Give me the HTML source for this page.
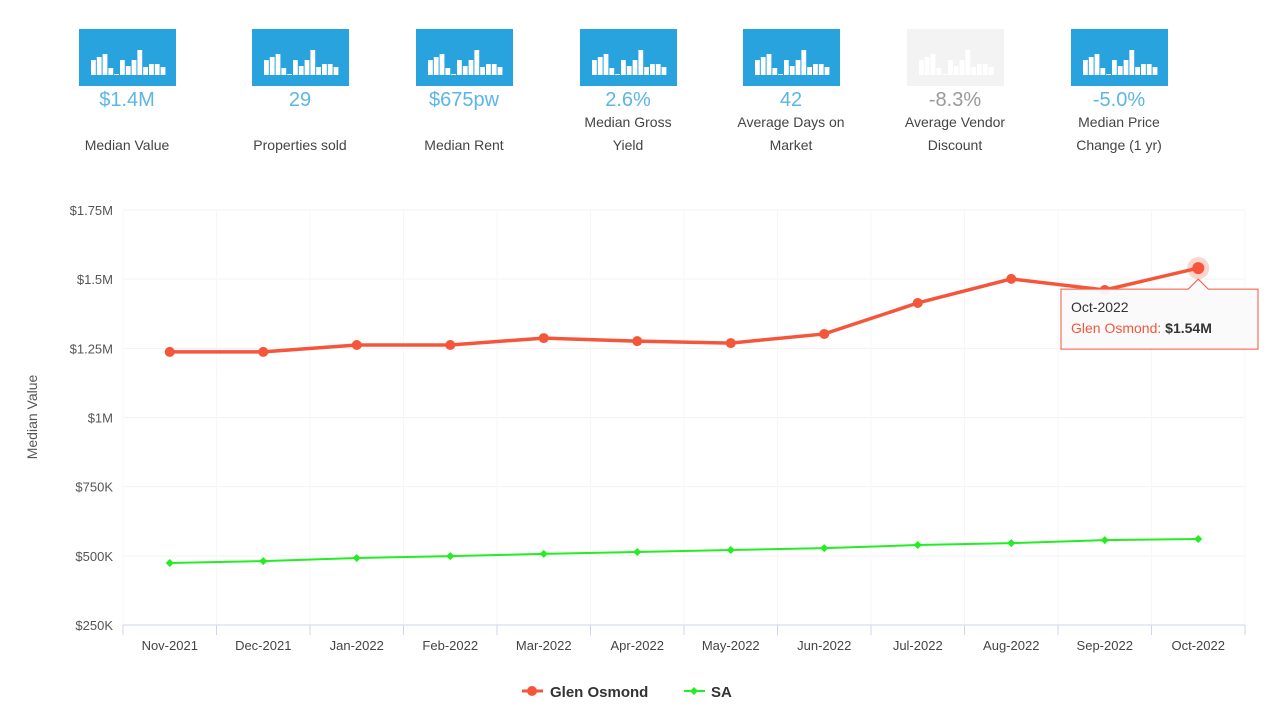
<!DOCTYPE html>
<html><head><meta charset="utf-8">
<style>
body{margin:0;width:1278px;height:720px;background:#fff;font-family:"Liberation Sans",sans-serif;overflow:hidden;position:relative}
.stat{position:absolute;top:29px;width:150px;text-align:center}
.icon{display:block;margin:0 auto;width:97px;height:57px;background:#29a3dd}
.icon.dim{background:#f3f3f3}
.val{color:#5bb6e8;font-size:20px;line-height:22px;margin-top:3px}
.lab{color:#444;font-size:14px;line-height:23px;height:46px;display:flex;align-items:flex-end;justify-content:center}
</style></head><body>
<div id="stats"></div>
<svg id="chart" width="1278" height="720" style="position:absolute;left:0;top:0"></svg>
<script>
const categories=["Nov-2021","Dec-2021","Jan-2022","Feb-2022","Mar-2022","Apr-2022","May-2022","Jun-2022","Jul-2022","Aug-2022","Sep-2022","Oct-2022"];
const glenValues=[1.237,1.237,1.262,1.262,1.287,1.276,1.269,1.302,1.414,1.501,1.461,1.54];
const saValues=[0.474,0.481,0.492,0.499,0.507,0.514,0.521,0.528,0.539,0.546,0.557,0.561];
const yTicks=[0.25,0.5,0.75,1,1.25,1.5,1.75];
const yTickLabels=["$250K","$500K","$750K","$1M","$1.25M","$1.5M","$1.75M"];
const statVals=["$1.4M","29","$675pw","2.6%","42","-8.3%","-5.0%"];
const statLabels=["Median Value","Properties sold","Median Rent","Median Gross<br>Yield","Average Days on<br>Market","Average Vendor<br>Discount","Median Price<br>Change (1 yr)"];
const statCenters=[127,300,464,628,791,955,1119];
const barH=[15,18,21,7,1,15,9,15,25,8,11,11,8];

const st=document.getElementById('stats');
statVals.forEach((v,i)=>{
  const d=document.createElement('div');
  d.className='stat';d.style.left=(statCenters[i]-75)+'px';
  
  
  let bars='';
  barH.forEach((h,j)=>{bars+=`<rect x="${12+j*5.8}" y="${46-h}" width="4.8" height="${h}" fill="#fff"/>`;});
  d.innerHTML=`<svg class="icon${i==5?' dim':''}" viewBox="0 0 97 57">${bars}</svg><div class="val" style="${i==5?'color:#999':''}">${v}</div><div class="lab"><span>${statLabels[i]}</span></div>`;
  st.appendChild(d);
});

const svg=document.getElementById('chart');
const NS='http://www.w3.org/2000/svg';
const L=123,R=1245,T=210,B=625;
const bw=(R-L)/categories.length;
const x=i=>L+bw*(i+0.5);
const y=v=>B-(v-0.25)/1.5*(B-T);
function mk(tag,attrs,name,text){const e=document.createElementNS(NS,tag);for(const k in attrs)e.setAttribute(k,attrs[k]);


if(text!==undefined)e.textContent=text;svg.appendChild(e);return e;}
yTicks.forEach((t,i)=>{
  mk('line',{x1:L,x2:R,y1:y(t),y2:y(t),stroke:'#f3f3f3'},'y-gridline');
  mk('text',{x:113,y:y(t)+5,'text-anchor':'end','font-size':13,fill:'#555'},'y-tick-label',yTickLabels[i]);
});
for(let i=0;i<=categories.length;i++){
  mk('line',{x1:L+bw*i,x2:L+bw*i,y1:T,y2:B,stroke:'#f7f7f7'},'x-gridline');
  mk('line',{x1:L+bw*i,x2:L+bw*i,y1:B,y2:B+10,stroke:'#ccd6eb'},'x-tick');
}
mk('line',{x1:L,x2:R,y1:B,y2:B,stroke:'#ccd6eb'},'x-axis-line');
categories.forEach((c,i)=>mk('text',{x:x(i),y:650,'text-anchor':'middle','font-size':13,fill:'#444'},'x-tick-label',c));
mk('text',{x:37,y:417,'text-anchor':'middle','font-size':14,fill:'#555',transform:'rotate(-90 37 417)'},'y-axis-title','Median Value');
mk('polyline',{points:saValues.map((v,i)=>x(i)+','+y(v)).join(' '),fill:'none',stroke:'#22ee22','stroke-width':2},'sa-line');
saValues.forEach((v,i)=>mk('path',{d:`M${x(i)} ${y(v)-4}l4 4l-4 4l-4 -4z`,fill:'#22ee22'},'sa-point'));
mk('polyline',{points:glenValues.map((v,i)=>x(i)+','+y(v)).join(' '),fill:'none',stroke:'#f5563b','stroke-width':3.5},'glen-osmond-line');
glenValues.forEach((v,i)=>mk('circle',{cx:x(i),cy:y(v),r:5,fill:'#f5563b'},'glen-osmond-point'));
const li=glenValues.length-1;
mk('circle',{cx:x(li),cy:y(glenValues[li]),r:11,fill:'#f5563b','fill-opacity':0.25},'hover-halo');
mk('circle',{cx:x(li),cy:y(glenValues[li]),r:6,fill:'#f5563b'},'hover-point');
const tx=1061,ty=y(glenValues[li])+21;
mk('path',{d:`M${tx} ${ty}H${x(li)-10}l10 -10l10 10H${tx+197}V${ty+60}H${tx}Z`,fill:'#fafafa','fill-opacity':0.95,stroke:'#f5563b','stroke-width':1},'tooltip-box');
mk('text',{x:tx+10,y:ty+23,'font-size':14,fill:'#333'},'tooltip-title',categories[li]);
const tt=mk('text',{x:tx+10,y:ty+44,'font-size':14,fill:'#f5563b'},'tooltip-value','');
tt.innerHTML='Glen Osmond: <tspan font-weight="bold" fill="#333">$'+glenValues[li].toFixed(2)+'M</tspan>';
mk('line',{x1:522,x2:543,y1:691,y2:691,stroke:'#f5563b','stroke-width':3},'legend-glen-line');
mk('circle',{cx:532,cy:691,r:5,fill:'#f5563b'},'legend-glen-marker');
mk('text',{x:550,y:697,'font-size':15,'font-weight':'bold',fill:'#333'},'legend-glen-osmond','Glen Osmond');
mk('line',{x1:684,x2:705,y1:691,y2:691,stroke:'#22ee22','stroke-width':2},'legend-sa-line');
mk('path',{d:'M694 687l4 4l-4 4l-4 -4z',fill:'#22ee22'},'legend-sa-marker');
mk('text',{x:711,y:697,'font-size':15,'font-weight':'bold',fill:'#333'},'legend-sa','SA');
</script>
</body></html>
